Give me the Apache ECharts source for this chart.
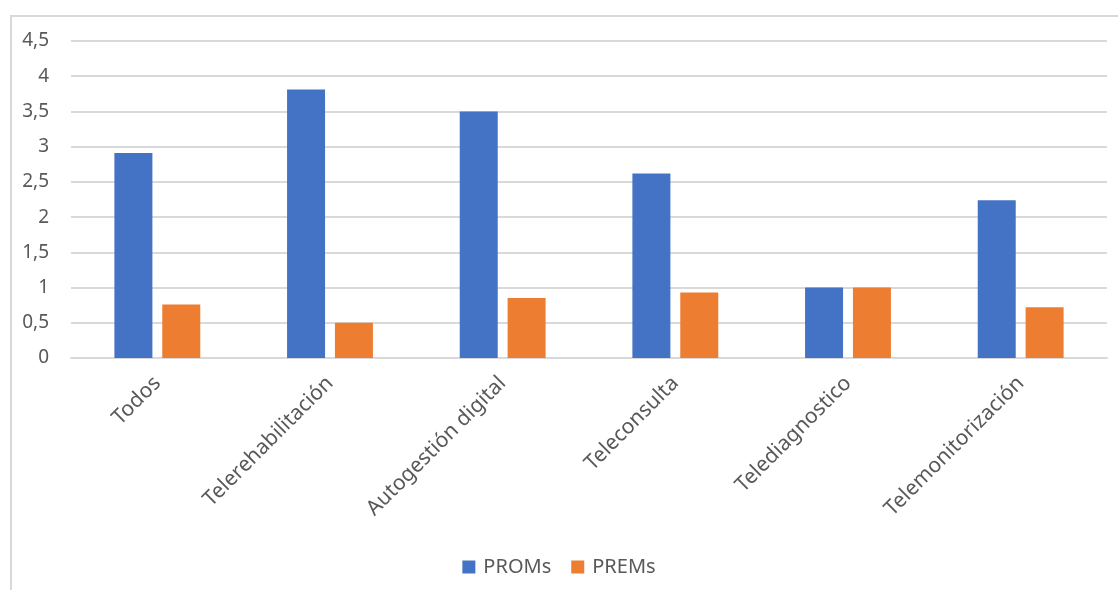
<!DOCTYPE html>
<html>
<head>
<meta charset="utf-8">
<script src="https://cdn.jsdelivr.net/npm/echarts@6/dist/echarts.min.js"></script>
<style>
  html, body { margin: 0; padding: 0; background: #ffffff; }
  #frame {
    position: absolute; left: 10px; top: 15px; width: 1108px; height: 575px;
    border-left: 2px solid #d9d9d9; border-top: 2px solid #d9d9d9;
  }
  #chart { position: absolute; left: 0; top: 0; width: 1118px; height: 590px; }
</style>
</head>
<body>
<div id="frame"></div>
<div id="chart"></div>
<script>
// Categories and values per series
const categories = ['Todos', 'Telerehabilitación', 'Autogestión digital', 'Teleconsulta', 'Telediagnostico', 'Telemonitorización'];
const proms = [2.91, 3.81, 3.5, 2.62, 1.0, 2.24];
const prems = [0.76, 0.5, 0.85, 0.93, 1.0, 0.72];
const seriesNames = ['PROMs', 'PREMs'];

const FONT = 'Noto Sans';
const TEXT = '#595959';

const chart = echarts.init(document.getElementById('chart'), null, { renderer: 'canvas' });
chart.setOption({
  animation: false,
  backgroundColor: 'transparent',
  textStyle: { fontFamily: FONT },
  grid: { left: 71, right: 11, top: 41, bottom: 232, containLabel: false },
  legend: {
    data: seriesNames,
    bottom: 8,
    left: 'center',
    itemWidth: 13,
    itemHeight: 13,
    itemGap: 20,
    icon: 'rect',
    textStyle: { color: TEXT, fontSize: 20, fontFamily: FONT, padding: [0, 0, 0, 3] }
  },
  xAxis: {
    type: 'category',
    data: categories,
    axisLine: { show: true, lineStyle: { color: '#d9d9d9', width: 2 } },
    axisTick: { show: false },
    axisLabel: { rotate: 45, margin: 22, color: TEXT, fontSize: 21, fontFamily: FONT, interval: 0 }
  },
  yAxis: {
    type: 'value',
    min: 0, max: 4.5, interval: 0.5,
    axisLine: { show: false },
    axisTick: { show: false },
    splitLine: { lineStyle: { color: '#d9d9d9', width: 2 } },
    axisLabel: {
      margin: 22, color: TEXT, fontSize: 19, fontFamily: FONT,
      formatter: v => String(v).replace('.', ',')
    }
  },
  series: [
    { name: seriesNames[0], type: 'bar', data: proms, barWidth: 38, barGap: '26%',
      itemStyle: { color: '#4472c4' } },
    { name: seriesNames[1], type: 'bar', data: prems, barWidth: 38,
      itemStyle: { color: '#ed7d31' } }
  ]
});
</script>
</body>
</html>
